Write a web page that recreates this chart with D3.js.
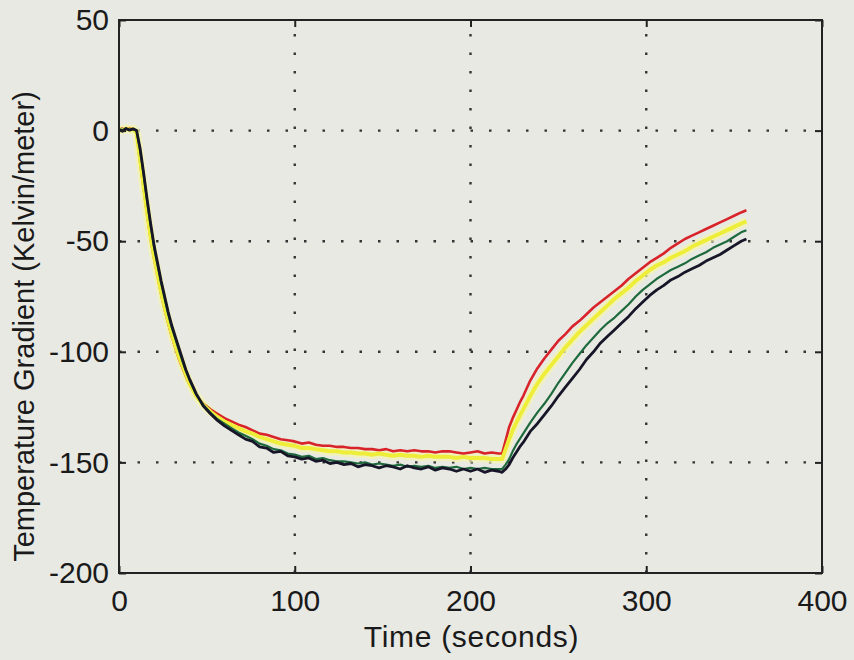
<!DOCTYPE html>
<html><head><meta charset="utf-8">
<script src="https://cdn.jsdelivr.net/npm/d3@7"></script>
<style>
html,body{margin:0;padding:0;background:#e9e9e4;}
svg{display:block;}
text{font-family:"Liberation Sans",Arial,Helvetica,sans-serif;fill:#1a1a1a;}
</style></head><body>
<svg id="chart" width="854" height="660"></svg>
<script>
// ---- data ----
const timeSeconds = [0,2,4,6,8,10,
 12,14,16,18,20,22,24,26,28,30,32,34,36,38,40,
 44,48,52,56,60,64,68,
 72,76,80,84,88,92,96,100,104,108,112,116,120,124,128,132,136,140,144,148,152,156,160,164,168,172,176,180,184,188,192,196,200,204,208,212,216,
 218,220,222,224,226,228,230,
 234,238,242,246,250,254,258,262,266,270,274,278,282,286,290,294,298,302,306,310,314,318,322,326,330,334,338,342,346,350,354,357];

const redSeries = [0.5,0.9,0.3,1.1,0.6,-1,
 -14,-26,-38,-49,-58,-66,-74,-81,-87,-93,-98,-103,-107,-111,-114.5,
 -120,-123.5,-126,-128,-130,-131.5,-133,
 -134,-135.5,-137,-137.5,-138.5,-139.5,-140,-140.5,-141.5,-141,-142,-142.5,-142.5,-143,-143,-143.5,-143.5,-144,-144,-144.5,-144,-145,-144.5,-145,-144.5,-145,-145,-145.5,-145,-145,-145.5,-146,-145.5,-145,-146,-145.5,-146,
 -146,-140,-134,-130,-126.5,-123,-120,
 -113,-107.5,-103,-99,-95,-92,-88.5,-86,-83,-80,-77.5,-75,-72.5,-70,-67,-64.5,-62,-59.5,-57.5,-55.5,-53,-51,-49,-47.5,-46,-44.5,-43,-41.5,-40,-38.5,-37,-36];

const yellowSeries = [0.6,0.2,0.9,0.4,0.7,-1,
 -13,-25,-37,-48,-57,-65,-73,-80,-86,-92,-97,-102,-106,-110,-114,
 -120,-124,-127,-129.5,-131.5,-133,-134.5,
 -136,-137,-138.5,-139.5,-140.5,-141.5,-142,-142.5,-143.5,-143.5,-144,-144.5,-145,-145,-145.5,-145.5,-146,-146,-146.5,-146,-146.5,-147,-146.5,-147,-147,-147.5,-147,-147.5,-147.5,-147.5,-148,-147.5,-148,-148,-148,-148.5,-148.5,
 -148.5,-144,-139.5,-135.5,-132,-129,-126,
 -120,-114.5,-110,-106,-102,-98,-94.5,-91,-88,-85,-82,-79,-76,-73.5,-71,-68,-65.5,-63,-61,-59.5,-57.5,-56,-54.5,-52.5,-51,-49.5,-48,-46.5,-45,-43.5,-42,-41];

const greenSeries = [0.5,0.3,0.8,0.5,0.6,0,
 -9,-20,-32,-43,-53,-61,-69,-76,-83,-89,-94,-99,-104,-108.5,-112.5,
 -119.5,-124,-127.5,-130.5,-132.5,-134.5,-136.5,
 -138,-139.5,-141.5,-142.5,-144,-144.5,-146,-146.5,-147.5,-147,-148.5,-148,-149,-149.5,-149.5,-150,-150.5,-150,-151,-150.5,-151,-151.5,-151,-152,-151.5,-152,-151.5,-152.5,-152,-152.5,-152,-153,-152.5,-153,-152.5,-153,-153,
 -153,-151,-148.5,-145,-142,-139.5,-137,
 -132,-127.5,-123.5,-119,-114,-109.5,-105,-101,-97,-93.5,-90,-87,-84.5,-81.5,-78.5,-75,-72,-69.5,-67,-65,-63,-61.5,-60,-58,-56.5,-55,-53,-51.5,-50,-48,-46,-45];

const blackSeries = [0.5,-0.3,1.0,0.2,0.8,0,
 -8,-19,-31,-42,-52,-60,-68,-75,-82,-88,-93,-98,-103,-108,-112,
 -119,-124.5,-128,-131,-133.5,-135.5,-137.5,
 -139.5,-140.5,-143,-143.5,-145.5,-145,-147,-147.5,-148.5,-148,-149.5,-149,-150.5,-150,-151,-150.5,-152,-151,-151.5,-152.5,-151.5,-152,-153,-151.5,-152.5,-153,-152,-153.5,-152.5,-153,-154,-153,-154,-153,-154.5,-153.5,-154,
 -154.5,-153,-151,-148,-145.5,-143,-141,
 -136,-132.5,-128.5,-124.5,-120,-116,-112,-108,-103.5,-100,-96,-93,-90,-87,-84,-80.5,-77.5,-74.5,-72,-70,-67.5,-66,-64,-62.5,-61,-59,-57.5,-56,-54,-52,-50,-49];

const xTicks = [0,100,200,300,400];
const yTicks = [50,0,-50,-100,-150,-200];
const xLabel = "Time (seconds)";
const yLabel = "Temperature Gradient (Kelvin/meter)";

// ---- layout ----
const L = 119, R = 822, T = 20, B = 573;
const FS = 30;
const svg = d3.select("#chart");
svg.append("rect").attr("width",854).attr("height",660).attr("fill","#e9e9e4");

const x = d3.scaleLinear().domain([0,400]).range([L,R]);
const y = d3.scaleLinear().domain([-200,50]).range([B,T]);

// grid
const grid = svg.append("g");
xTicks.slice(1,-1).forEach(v=>{
  grid.append("line").attr("x1",x(v)).attr("x2",x(v)).attr("y1",B).attr("y2",T)
    .attr("stroke","#333").attr("stroke-width",2.4).attr("stroke-dasharray","2.5,16");
});
yTicks.slice(1,-1).forEach(v=>{
  grid.append("line").attr("x1",L).attr("x2",R).attr("y1",y(v)).attr("y2",y(v))
    .attr("stroke","#333").attr("stroke-width",2.4).attr("stroke-dasharray","2.5,16");
});

// lines
const line = d3.line().x((d,i)=>x(timeSeconds[i])).y(d=>y(d));
const g = svg.append("g");
g.append("path").datum(yellowSeries).attr("d",line).attr("fill","none")
  .attr("stroke","#f4f4b0").attr("stroke-width",9).attr("stroke-linejoin","round").attr("opacity",0.7);
g.append("path").datum(redSeries).attr("d",line).attr("fill","none")
  .attr("stroke","#d8232a").attr("stroke-width",2.6).attr("stroke-linejoin","round");
g.append("path").datum(yellowSeries).attr("d",line).attr("fill","none")
  .attr("stroke","#eeee3a").attr("stroke-width",4).attr("stroke-linejoin","round");
g.append("path").datum(greenSeries).attr("d",line).attr("fill","none")
  .attr("stroke","#1e6a3d").attr("stroke-width",2.2).attr("stroke-linejoin","round");
g.append("path").datum(blackSeries).attr("d",line).attr("fill","none")
  .attr("stroke","#161628").attr("stroke-width",2.8).attr("stroke-linejoin","round");

// axes (MATLAB-style inward ticks, box)
const tickLen = 7;
const fmt = d => String(d);
const xAxisB = d3.axisBottom(x).tickValues(xTicks).tickSizeInner(-tickLen).tickSizeOuter(0).tickPadding(17).tickFormat(fmt);
const yAxisL = d3.axisLeft(y).tickValues(yTicks).tickSizeInner(-tickLen).tickSizeOuter(0).tickPadding(10).tickFormat(fmt);
const ax = svg.append("g").attr("transform",`translate(0,${B})`).call(xAxisB);
const ay = svg.append("g").attr("transform",`translate(${L},0)`).call(yAxisL);
const axT = svg.append("g").attr("transform",`translate(0,${T})`).call(d3.axisTop(x).tickValues(xTicks).tickSizeInner(-tickLen).tickSizeOuter(0).tickFormat(""));
const ayR = svg.append("g").attr("transform",`translate(${R},0)`).call(d3.axisRight(y).tickValues(yTicks).tickSizeInner(-tickLen).tickSizeOuter(0).tickFormat(""));
[ax,ay,axT,ayR].forEach(a=>{
  a.select(".domain").remove();
  a.selectAll(".tick line").attr("stroke","#222").attr("stroke-width",2);
  a.selectAll("text").attr("font-size",FS).attr("fill","#1a1a1a")
    .attr("font-family","'Liberation Sans',Arial,Helvetica,sans-serif");
});
ax.selectAll("text").attr("dy","0.71em");
svg.append("rect").attr("x",L).attr("y",T).attr("width",R-L).attr("height",B-T)
  .attr("fill","none").attr("stroke","#222").attr("stroke-width",2);

// labels
svg.append("text").attr("x",(L+R)/2+1).attr("y",647).attr("text-anchor","middle")
  .attr("font-size",FS).attr("letter-spacing",0.7).text(xLabel);
svg.append("text").attr("transform",`translate(34,${(T+B)/2+30}) rotate(-90)`)
  .attr("text-anchor","middle").attr("font-size",29).text(yLabel);
</script>
</body></html>
